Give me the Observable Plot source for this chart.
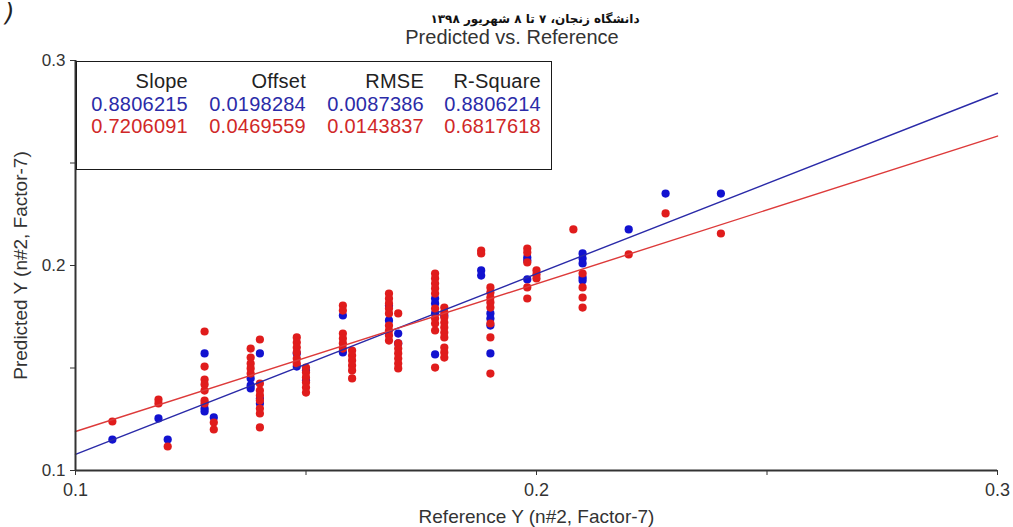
<!DOCTYPE html>
<html>
<head>
<meta charset="utf-8">
<script src="https://cdn.jsdelivr.net/npm/d3@7"></script>
<script src="https://cdn.jsdelivr.net/npm/@observablehq/plot@0.6"></script>
<style>
  html, body { margin: 0; padding: 0; background: #fff; }
  #wrap { position: relative; width: 1013px; height: 527px; overflow: hidden; font-family: "Liberation Sans", Arial, sans-serif; }
  #chart { position: absolute; left: 0; top: 0; }
  .title { position: absolute; left: 0; width: 1024px; text-align: center; top: 26px; font-size: 20px; line-height: 22px; color: #333; }
  .fa { position: absolute; left: 0; width: 1070px; text-align: center; top: 11px; font-family: "DejaVu Sans", sans-serif; font-weight: bold; font-size: 12px; line-height: 16px; color: #111; direction: rtl; white-space: nowrap; letter-spacing: 0.3px; }
  .paren { position: absolute; left: 5px; top: 0px; font-size: 24px; line-height: 26px; color: #222; font-family: "DejaVu Sans", sans-serif; font-style: italic; }
  #legend { position: absolute; left: 76px; top: 61px; width: 474px; height: 99px; border: 1.5px solid #1a1a1a; background: #fff;
            display: grid; grid-template-columns: 111px 118px 118px 117px; grid-auto-rows: 22.5px; align-content: start;
            padding-top: 8px; box-sizing: content-box; font-size: 20px; line-height: 22.5px; letter-spacing: 0.25px; }
  #legend div { text-align: right; white-space: nowrap; }
  g[aria-label="x-axis label"] text, g[aria-label="y-axis label"] text { font-size: 19px; }
</style>
</head>
<body>
<div id="wrap">
  <div id="chart"></div>
  <div class="paren">)</div>
  <div class="fa" id="faText"></div>
  <div class="title" id="title"></div>
  <div id="legend"></div>
</div>
<script>
// ---- data ----
const headerText = "دانشگاه زنجان، ۷ تا ۸ شهریور ۱۳۹۸";
const titleText = "Predicted vs. Reference";
const xLabel = "Reference Y (n#2, Factor-7)";
const yLabel = "Predicted Y (n#2, Factor-7)";

const tickValues = [0.1, 0.15, 0.2, 0.25, 0.3];
const tickLabels = ["0.1", "", "0.2", "", "0.3"];

const statNames = ["Slope", "Offset", "RMSE", "R-Square"];
const blueStats = ["0.8806215", "0.0198284", "0.0087386", "0.8806214"];
const redStats  = ["0.7206091", "0.0469559", "0.0143837", "0.6817618"];
const blueSlope = 0.8806215, blueOffset = 0.0198284;
const redSlope = 0.7206091, redOffset = 0.0469559;

const refLevels = [0.108, 0.118, 0.120, 0.128, 0.130, 0.138, 0.140, 0.148, 0.150, 0.158, 0.160, 0.168,
                   0.170, 0.178, 0.180, 0.188, 0.190, 0.198, 0.200, 0.208, 0.210, 0.220, 0.228, 0.240];

const bluePred = [
  [0.1151], [0.1254], [0.1151], [0.1571, 0.1302, 0.1288], [0.1259],
  [0.1449, 0.1415, 0.1400], [0.1571, 0.1351, 0.1327], [0.1571, 0.1507], [0.1488, 0.1439],
  [0.1756, 0.1576], [], [0.1805, 0.1732], [0.1668, 0.1620],
  [0.1839, 0.1815, 0.1766, 0.1566], [0.1756], [0.1976, 0.1951],
  [0.1766, 0.1741, 0.1707, 0.1571], [0.2039, 0.2024, 0.1932], [], [],
  [0.2059, 0.2034, 0.2010, 0.1941, 0.1927], [0.2176], [0.2351], [0.2351]
];

const redPred = [
  [0.1239], [0.1346, 0.1327], [0.1117],
  [0.1678, 0.1507, 0.1444, 0.1420, 0.1390, 0.1341, 0.1327], [0.1234, 0.1200],
  [0.1595, 0.1551, 0.1522, 0.1498, 0.1473],
  [0.1639, 0.1424, 0.1390, 0.1366, 0.1341, 0.1302, 0.1278, 0.1210],
  [0.1649, 0.1624, 0.1600, 0.1576, 0.1546, 0.1522],
  [0.1502, 0.1478, 0.1454, 0.1429, 0.1405, 0.1380],
  [0.1805, 0.1780, 0.1668, 0.1644, 0.1620, 0.1595],
  [0.1585, 0.1561, 0.1537, 0.1512, 0.1488, 0.1449],
  [0.1863, 0.1839, 0.1815, 0.1790, 0.1766, 0.1707, 0.1683, 0.1659, 0.1634],
  [0.1766, 0.1620, 0.1595, 0.1571, 0.1546, 0.1522, 0.1498],
  [0.1961, 0.1937, 0.1912, 0.1888, 0.1863, 0.1790, 0.1741, 0.1717, 0.1683, 0.1502],
  [0.1795, 0.1771, 0.1746, 0.1722, 0.1698, 0.1673, 0.1649, 0.1600, 0.1576, 0.1551],
  [0.2073, 0.2059],
  [0.1893, 0.1868, 0.1844, 0.1820, 0.1795, 0.1717, 0.1649, 0.1473],
  [0.2083, 0.2063, 0.2015, 0.1893, 0.1839],
  [0.1976, 0.1956, 0.1937],
  [0.2176],
  [0.1961, 0.1893, 0.1844, 0.1795],
  [0.2054], [0.2254], [0.2156]
];

const xDomain = [0.1, 0.3];

// ---- build tables ----
const blueData = refLevels.flatMap((x, i) => bluePred[i].map(y => ({x, y})));
const redData = refLevels.flatMap((x, i) => redPred[i].map(y => ({x, y})));
const blueLine = xDomain.map(x => ({x, y: blueSlope * x + blueOffset}));
const redLine = xDomain.map(x => ({x, y: redSlope * x + redOffset}));

const BLUE = "#1212d0", RED = "#e01c1c";

const plot = Plot.plot({
  width: 1013,
  height: 527,
  marginLeft: 75,
  marginRight: 16,
  marginTop: 60,
  marginBottom: 57,
  style: {fontFamily: '"Liberation Sans", Arial, sans-serif', fontSize: "17px", color: "#333", background: "#fff"},
  x: {domain: xDomain},
  y: {domain: [0.1, 0.3]},
  marks: [
    Plot.axisX({ticks: tickValues, tickFormat: (d, i) => tickLabels[i], tickSize: 5, tickPadding: 8,
                fontSize: 18, label: xLabel, labelAnchor: "center", labelArrow: "none", labelOffset: 52, stroke: "#333"}),
    Plot.axisY({ticks: tickValues, tickFormat: (d, i) => tickLabels[i], tickSize: 5, tickPadding: 5,
                fontSize: 17, label: yLabel, labelAnchor: "center", labelArrow: "none", labelOffset: 62, stroke: "#333"}),
    Plot.dot(blueData, {x: "x", y: "y", r: 4.1, fill: BLUE}),
    Plot.dot(redData, {x: "x", y: "y", r: 4.1, fill: RED}),
    Plot.line(blueLine, {x: "x", y: "y", stroke: "#2a2aa8", strokeWidth: 1.4}),
    Plot.line(redLine, {x: "x", y: "y", stroke: "#dd3a3a", strokeWidth: 1.4}),
    Plot.ruleX([xDomain[0]], {stroke: "#333", strokeWidth: 2}),
    Plot.ruleY([0.1], {stroke: "#333", strokeWidth: 2})
  ]
});
document.getElementById("chart").appendChild(plot);

document.getElementById("title").textContent = titleText;
document.getElementById("faText").textContent = headerText;

const legend = document.getElementById("legend");
const rows = [[statNames, "#222"], [blueStats, "#2b2ba8"], [redStats, "#d02828"]];
rows.forEach(([vals, col]) => vals.forEach(v => {
  const d = document.createElement("div");
  d.textContent = v;
  d.style.color = col;
  legend.appendChild(d);
}));
</script>
</body>
</html>
